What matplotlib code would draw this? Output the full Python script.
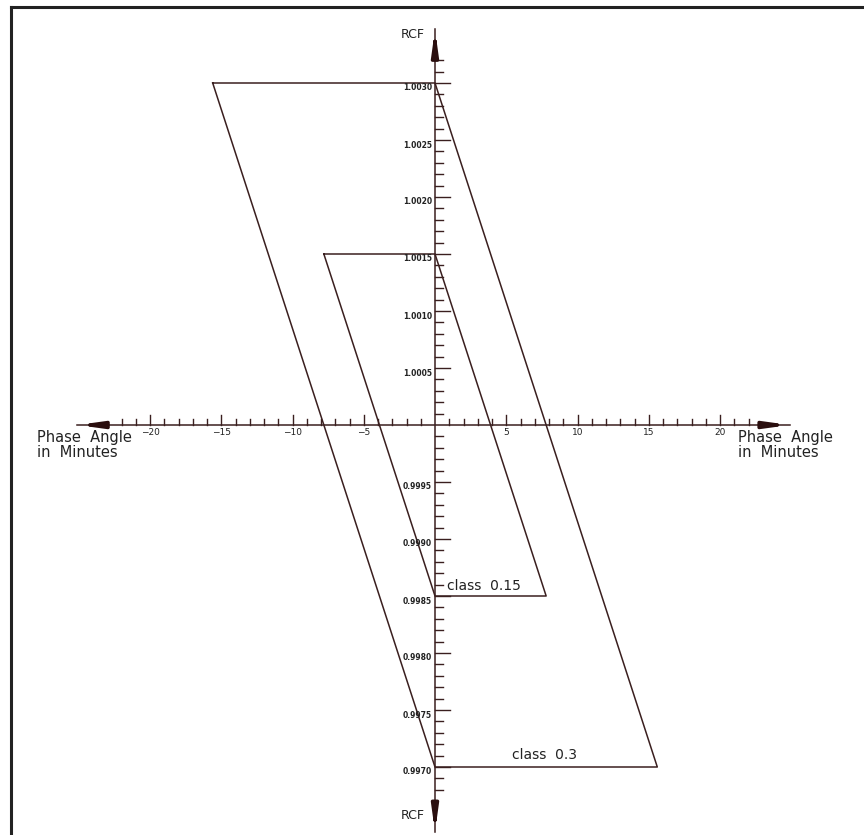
import matplotlib.pyplot as plt
import numpy as np

# accuracy class parallelograms (phase angle in minutes, RCF)
class03_x = [-15.6, 0, 15.6, 0, -15.6]
class03_y = [1.0030, 1.0030, 0.9970, 0.9970, 1.0030]
class015_x = [-7.8, 0, 7.8, 0, -7.8]
class015_y = [1.0015, 1.0015, 0.9985, 0.9985, 1.0015]

x_ticks = np.arange(-22, 23)
x_labels = [-20, -15, -10, -5, 5, 10, 15, 20]
y_ticks = np.arange(-32, 33) / 10000 + 1
y_labels = ['1.0030', '1.0025', '1.0020', '1.0015', '1.0010', '1.0005',
            '0.9995', '0.9990', '0.9985', '0.9980', '0.9975', '0.9970']

lc = '#3a1f1f'
px_x = 14.25      # pixels per minute
px_y = 114000.0   # pixels per unit RCF

fig = plt.figure(figsize=(8.64, 8.35), dpi=100)
ax = fig.add_axes([0, 0, 1, 1])
ax.set_xlim(-435 / px_x, (864 - 435) / px_x)
ax.set_ylim(1 - 410 / px_y, 1 + 425 / px_y)
ax.axis('off')

# frame (top + left only)
fig.add_artist(plt.Line2D([11 / 864, 11 / 864], [0, 1 - 7 / 835], color='#222222', lw=2.2))
fig.add_artist(plt.Line2D([11 / 864, 1], [1 - 7 / 835, 1 - 7 / 835], color='#222222', lw=2.2))

# axes lines
ax.plot([-25.1, 24.9], [1, 1], color=lc, lw=1.1)
ax.plot([0, 0], [0.99643, 1.00347], color=lc, lw=1.1)

# arrowheads
arr = dict(arrowstyle='-|>,head_length=1.3,head_width=0.18', color='#2a0e0e',
           lw=2.5, shrinkA=0, shrinkB=0)
ax.annotate('', xy=(-25.1, 1), xytext=(-23.2, 1), arrowprops=arr)
ax.annotate('', xy=(24.9, 1), xytext=(23.0, 1), arrowprops=arr)
ax.annotate('', xy=(0, 1.00347), xytext=(0, 1.00330), arrowprops=arr)
ax.annotate('', xy=(0, 0.99643), xytext=(0, 0.99660), arrowprops=arr)

# x ticks (upward)
for t in x_ticks:
    if t == 0:
        continue
    h = 10 / px_y if t % 5 == 0 else 6 / px_y
    ax.plot([t, t], [1, 1 + h], color=lc, lw=1.0)
for t in x_labels:
    ax.text(t, 1 - 3 / px_y, str(t).replace('-', '\u2212'), ha='center', va='top',
            fontsize=6.5, color='#222222')

# y ticks (to the right)
for v in y_ticks:
    k = int(round((v - 1) * 10000))
    if k == 0:
        continue
    w = 15 / px_x if k % 5 == 0 else 8 / px_x
    ax.plot([0, w], [v, v], color=lc, lw=1.0)
for s in y_labels:
    ax.text(-3 / px_x, float(s) - 5 / px_y, s, ha='right', va='center',
            fontsize=5.5, color='#222222', fontweight='bold')

# parallelograms
ax.plot(class03_x, class03_y, color=lc, lw=1.1)
ax.plot(class015_x, class015_y, color=lc, lw=1.1)

ax.text(7.7, 0.9970 + 5 / px_y, 'class  0.3', fontsize=10, color='#222222',
        ha='center', va='bottom')
ax.text(0.85, 0.9985 + 3 / px_y, 'class  0.15', fontsize=10, color='#222222',
        ha='left', va='bottom')

# axis titles
ax.text(-398 / px_x, 1 - 5 / px_y, 'Phase  Angle\nin  Minutes', fontsize=10.5,
        color='#222222', ha='left', va='top', linespacing=1.0)
ax.text(303 / px_x, 1 - 5 / px_y, 'Phase  Angle\nin  Minutes', fontsize=10.5,
        color='#222222', ha='left', va='top', linespacing=1.0)
ax.text(-0.7, 1 + 390 / px_y, 'RCF', fontsize=9, ha='right', va='center', color='#222222')
ax.text(-0.7, 1 - 390 / px_y, 'RCF', fontsize=9, ha='right', va='center', color='#222222')

plt.savefig('out.png', dpi=100)
